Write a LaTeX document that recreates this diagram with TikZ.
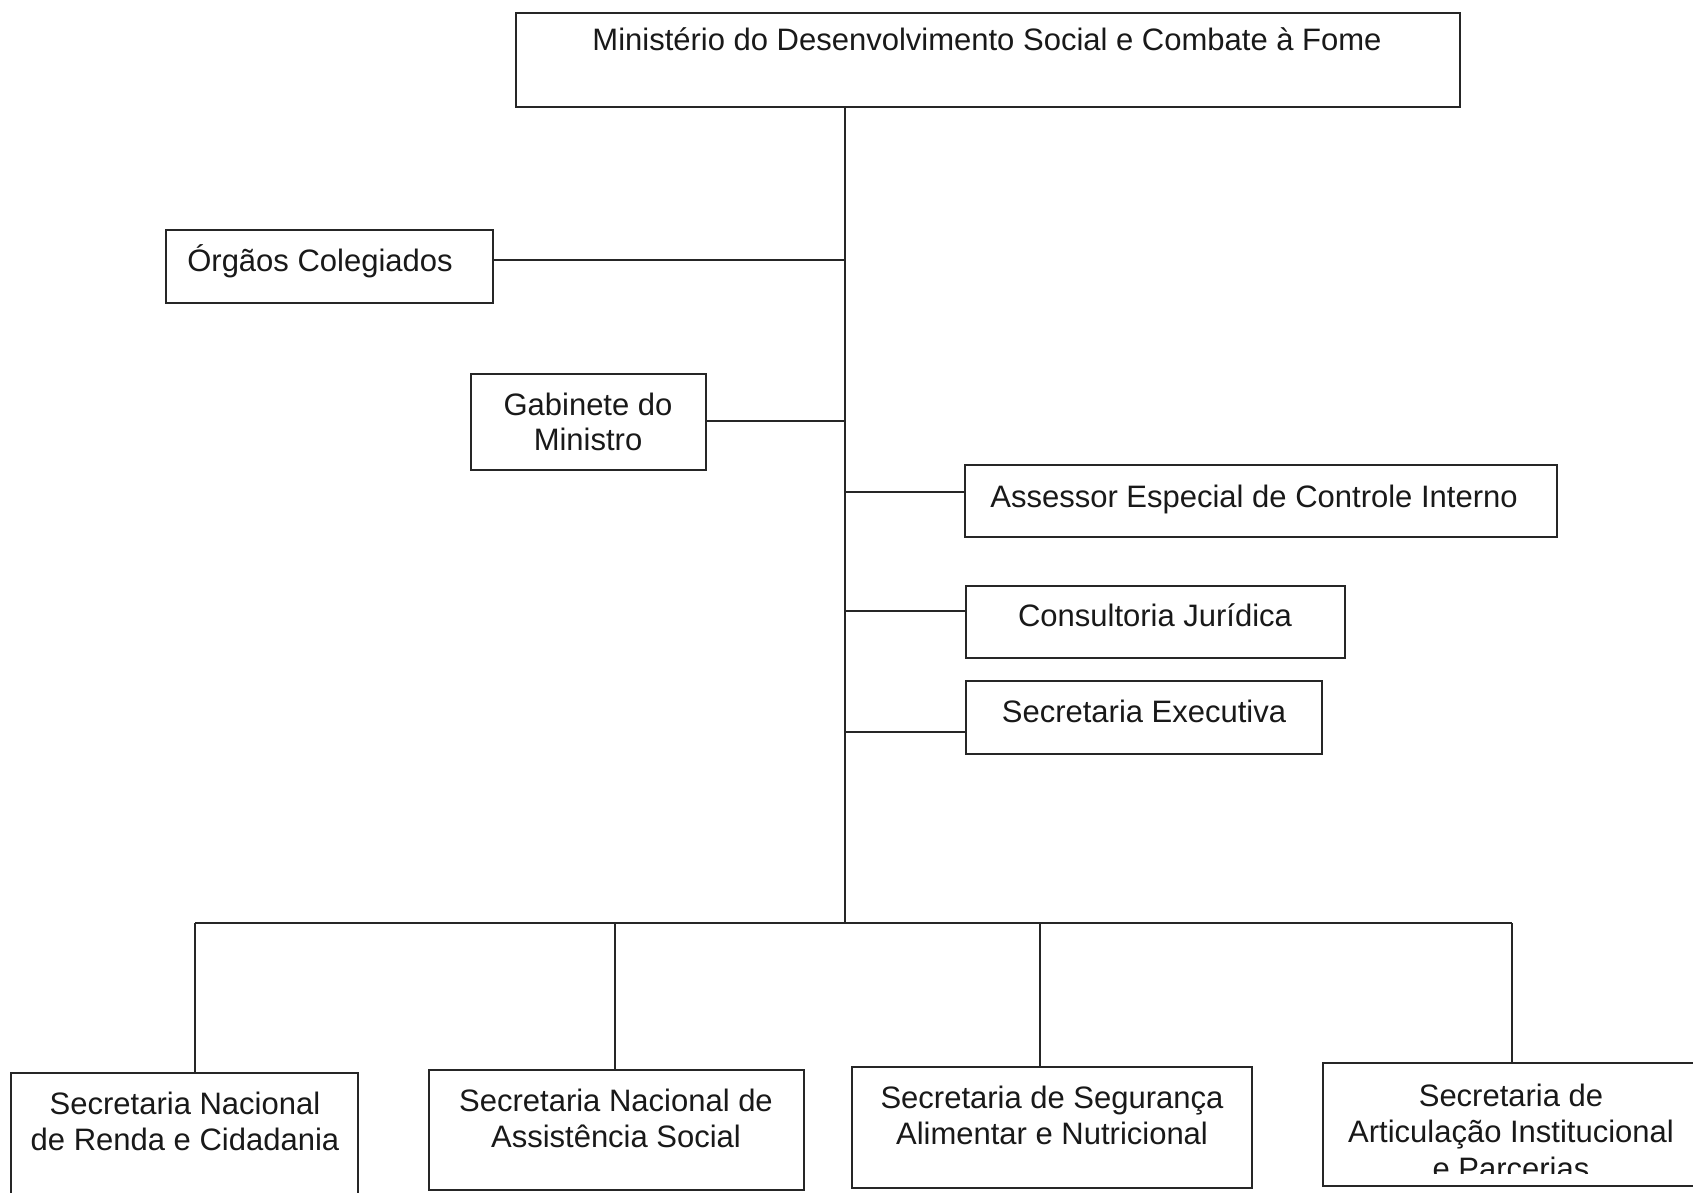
\documentclass[tikz,border=0pt]{standalone}
\usepackage{fontspec}
\setmainfont{Liberation Sans}
\begin{document}
\begin{tikzpicture}[x=1pt,y=-1pt,
  box/.style={draw=black!85, line width=1.6pt, inner sep=0pt, outer sep=0pt, fill=none},
  txt/.style={anchor=base, inner sep=0pt, font=\fontsize{31}{36}\selectfont, text=black!90},
  link/.style={draw=black!85, line width=1.6pt}]
\useasboundingbox (0,0) rectangle (1693,1192);
\fill[white] (0,0) rectangle (1693,1192);
% boxes
\node[box, minimum width=944, minimum height=94] (min) at (988,60) {};
\node[box, minimum width=327, minimum height=73] (org) at (329.5,266.5) {};
\node[box, minimum width=235, minimum height=96] (gab) at (588.5,422) {};
\node[box, minimum width=592, minimum height=72] (ase) at (1261,501) {};
\node[box, minimum width=379, minimum height=72] (con) at (1155.5,622) {};
\node[box, minimum width=356, minimum height=73] (exe) at (1144,717.5) {};
\node[box, minimum width=347, minimum height=142] (b1) at (184.5,1144) {};
\node[box, minimum width=375, minimum height=120] (b2) at (616.5,1130) {};
\node[box, minimum width=400, minimum height=121] (b3) at (1052,1127.5) {};
\node[box, minimum width=377, minimum height=123] (b4) at (1511.5,1124.5) {};
% texts
\node[txt] (mint) at (987,50) {Ministério do Desenvolvimento Social e Combate à Fome};
\node[txt] (orgt) at (320,271) {Órgãos Colegiados};
\node[txt] (gabt1) at (588,415) {Gabinete do};
\node[txt] (gabt2) at (588,450) {Ministro};
\node[txt] (aset) at (1254,507) {Assessor Especial de Controle Interno};
\node[txt] (cont) at (1155,626) {Consultoria Jurídica};
\node[txt] (exet) at (1144,722) {Secretaria Executiva};
\node[txt] (b1t1) at (185,1114) {Secretaria Nacional};
\node[txt] (b1t2) at (185,1150) {de Renda e Cidadania};
\node[txt] (b2t1) at (616,1111) {Secretaria Nacional de};
\node[txt] (b2t2) at (616,1147) {Assistência Social};
\node[txt] (b3t1) at (1052,1108) {Secretaria de Segurança};
\node[txt] (b3t2) at (1052,1144) {Alimentar e Nutricional};
\node[txt] (b4t1) at (1511,1106) {Secretaria de};
\node[txt] (b4t2) at (1511,1142) {Articulação Institucional};
\begin{scope}
\clip (b4.north west) rectangle (1700,1173);
\node[txt] (b4t3) at (1511,1179) {e Parcerias};
\end{scope}
% coordinates
\coordinate (bus) at (845,923);
\coordinate (yorg) at (0,260);
\coordinate (ygab) at (0,421);
\coordinate (yase) at (0,492);
\coordinate (ycon) at (0,611);
\coordinate (yexe) at (0,732);
\coordinate (d1) at (195,923);
\coordinate (d2) at (615,923);
\coordinate (d3) at (1040,923);
\coordinate (d4) at (1512,923);
% connectors
\draw[link] (min.south -| bus) -- (bus);
\draw[link] (org.east |- yorg) -- (bus |- yorg);
\draw[link] (gab.east |- ygab) -- (bus |- ygab);
\draw[link] (bus |- yase) -- (ase.west |- yase);
\draw[link] (bus |- ycon) -- (con.west |- ycon);
\draw[link] (bus |- yexe) -- (exe.west |- yexe);
\draw[link] (d1) -- (d4);
\draw[link] (d1) -- (d1 |- b1.north);
\draw[link] (d2) -- (d2 |- b2.north);
\draw[link] (d3) -- (d3 |- b3.north);
\draw[link] (d4) -- (d4 |- b4.north);
\end{tikzpicture}
\end{document}
